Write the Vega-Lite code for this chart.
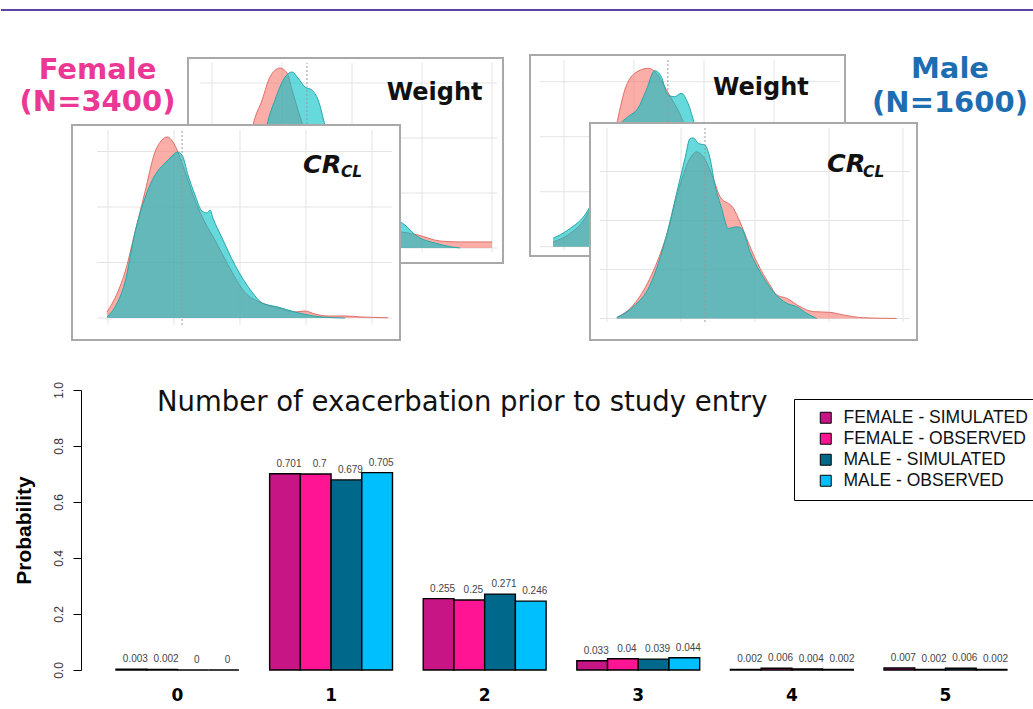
{
  "$schema": "https://vega.github.io/schema/vega-lite/v6.json",
  "background": "white",
  "padding": {"left": 0, "top": 0, "right": 0, "bottom": 0},
  "config": {"view": {"stroke": null}, "font": "Liberation Sans"},
  "spacing": 39,
  "resolve": {"legend": {"color": "independent"}},
  "vconcat": [
    {
      "width": 952, "height": 341,
      "resolve": {"scale": {"x": "independent", "y": "independent"}},
      "layer": [
        {
          "layer": [
            {"data": {"values": [{"k": 1}]}, "mark": {"type": "rect", "fill": "white", "stroke": "#a9a9a9", "strokeWidth": 2},
             "encoding": {"x": {"datum": 41.43, "type": "quantitative", "scale": {"domain": [3.214, 343.21], "nice": false, "zero": false}, "axis": null}, "x2": {"datum": 153.93},
                          "y": {"datum": -0.002727, "type": "quantitative", "scale": {"domain": [-0.016909, 0.045091], "nice": false, "zero": false}, "axis": null}, "y2": {"datum": 0.034545}}},
            {"data": {"values": [{"x": 50}, {"x": 75}, {"x": 100}, {"x": 125}, {"x": 150}]}, "mark": {"type": "rule", "color": "#e4e4e4"},
             "encoding": {"x": {"field": "x", "type": "quantitative", "scale": {"domain": [3.214, 343.21], "nice": false, "zero": false}, "axis": null},
                          "y": {"datum": -0.00073, "type": "quantitative", "scale": {"domain": [-0.016909, 0.045091], "nice": false, "zero": false}, "axis": null}, "y2": {"datum": 0.03364}}},
            {"data": {"values": [{"y": 0}, {"y": 0.01}, {"y": 0.02}, {"y": 0.03}]}, "mark": {"type": "rule", "color": "#e4e4e4"},
             "encoding": {"y": {"field": "y", "type": "quantitative", "scale": {"domain": [-0.016909, 0.045091], "nice": false, "zero": false}, "axis": null},
                          "x": {"datum": 45.7, "type": "quantitative", "scale": {"domain": [3.214, 343.21], "nice": false, "zero": false}, "axis": null}, "x2": {"datum": 151.8}}},
            {"data": {"name": "fw"}, "transform": [{"filter": "datum.s == 'o'"}],
             "mark": {"type": "area", "interpolate": "monotone", "color": "#F8766D", "fillOpacity": 0.6, "line": {"color": "#E0706A", "strokeWidth": 1}},
             "encoding": {"x": {"field": "x", "type": "quantitative", "scale": {"domain": [3.214, 343.21], "nice": false, "zero": false}, "axis": null},
                          "y": {"field": "y", "type": "quantitative", "stack": null, "scale": {"domain": [-0.016909, 0.045091], "nice": false, "zero": false}, "axis": null}, "y2": {"datum": 0}}},
            {"data": {"name": "fw"}, "transform": [{"filter": "datum.s == 's'"}],
             "mark": {"type": "area", "interpolate": "monotone", "color": "#00BFC4", "fillOpacity": 0.6, "line": {"color": "#27A7A9", "strokeWidth": 1}},
             "encoding": {"x": {"field": "x", "type": "quantitative", "scale": {"domain": [3.214, 343.21], "nice": false, "zero": false}, "axis": null},
                          "y": {"field": "y", "type": "quantitative", "stack": null, "scale": {"domain": [-0.016909, 0.045091], "nice": false, "zero": false}, "axis": null}, "y2": {"datum": 0}}},
            {"data": {"values": [{"x": 83.9}]}, "mark": {"type": "rule", "color": "#9a9a9a", "strokeDash": [2, 2]},
             "encoding": {"x": {"field": "x", "type": "quantitative", "scale": {"domain": [3.214, 343.21], "nice": false, "zero": false}, "axis": null},
                          "y": {"datum": -0.00073, "type": "quantitative", "scale": {"domain": [-0.016909, 0.045091], "nice": false, "zero": false}, "axis": null}, "y2": {"datum": 0.03364}}},
            {"data": {"values": [{"x": 112.4, "y": 0.0269, "t": "Weight"}]},
             "mark": {"type": "text", "align": "left", "baseline": "alphabetic", "font": "DejaVu Sans", "fontSize": 24, "fontWeight": "bold", "color": "#111"},
             "encoding": {"x": {"field": "x", "type": "quantitative", "scale": {"domain": [3.214, 343.21], "nice": false, "zero": false}, "axis": null},
                          "y": {"field": "y", "type": "quantitative", "scale": {"domain": [-0.016909, 0.045091], "nice": false, "zero": false}, "axis": null},
                          "text": {"field": "t"}}}
          ]
        },
        {
          "layer": [
            {"data": {"values": [{"k": 1}]}, "mark": {"type": "rect", "fill": "white", "stroke": "#a9a9a9", "strokeWidth": 2},
             "encoding": {"x": {"datum": 37.86, "type": "quantitative", "scale": {"domain": [-122.5, 217.5], "nice": false, "zero": false}, "axis": null}, "x2": {"datum": 150.36},
                          "y": {"datum": -0.001691, "type": "quantitative", "scale": {"domain": [-0.017145, 0.044855], "nice": false, "zero": false}, "axis": null}, "y2": {"datum": 0.034855}}},
            {"data": {"values": [{"x": 50}, {"x": 75}, {"x": 100}, {"x": 125}]}, "mark": {"type": "rule", "color": "#e4e4e4"},
             "encoding": {"x": {"field": "x", "type": "quantitative", "scale": {"domain": [-122.5, 217.5], "nice": false, "zero": false}, "axis": null},
                          "y": {"datum": -0.0006, "type": "quantitative", "scale": {"domain": [-0.017145, 0.044855], "nice": false, "zero": false}, "axis": null}, "y2": {"datum": 0.03395}}},
            {"data": {"values": [{"y": 0}, {"y": 0.01}, {"y": 0.02}, {"y": 0.03}]}, "mark": {"type": "rule", "color": "#e4e4e4"},
             "encoding": {"y": {"field": "y", "type": "quantitative", "scale": {"domain": [-0.017145, 0.044855], "nice": false, "zero": false}, "axis": null},
                          "x": {"datum": 41.4, "type": "quantitative", "scale": {"domain": [-122.5, 217.5], "nice": false, "zero": false}, "axis": null}, "x2": {"datum": 148.6}}},
            {"data": {"name": "mw"}, "transform": [{"filter": "datum.s == 'o'"}],
             "mark": {"type": "area", "interpolate": "monotone", "color": "#F8766D", "fillOpacity": 0.6, "line": {"color": "#E0706A", "strokeWidth": 1}},
             "encoding": {"x": {"field": "x", "type": "quantitative", "scale": {"domain": [-122.5, 217.5], "nice": false, "zero": false}, "axis": null},
                          "y": {"field": "y", "type": "quantitative", "stack": null, "scale": {"domain": [-0.017145, 0.044855], "nice": false, "zero": false}, "axis": null}, "y2": {"datum": 0}}},
            {"data": {"name": "mw"}, "transform": [{"filter": "datum.s == 's'"}],
             "mark": {"type": "area", "interpolate": "monotone", "color": "#00BFC4", "fillOpacity": 0.6, "line": {"color": "#27A7A9", "strokeWidth": 1}},
             "encoding": {"x": {"field": "x", "type": "quantitative", "scale": {"domain": [-122.5, 217.5], "nice": false, "zero": false}, "axis": null},
                          "y": {"field": "y", "type": "quantitative", "stack": null, "scale": {"domain": [-0.017145, 0.044855], "nice": false, "zero": false}, "axis": null}, "y2": {"datum": 0}}},
            {"data": {"values": [{"x": 87.1}]}, "mark": {"type": "rule", "color": "#9a9a9a", "strokeDash": [2, 2]},
             "encoding": {"x": {"field": "x", "type": "quantitative", "scale": {"domain": [-122.5, 217.5], "nice": false, "zero": false}, "axis": null},
                          "y": {"datum": -0.0006, "type": "quantitative", "scale": {"domain": [-0.017145, 0.044855], "nice": false, "zero": false}, "axis": null}, "y2": {"datum": 0.03395}}},
            {"data": {"values": [{"x": 103.2, "y": 0.02758, "t": "Weight"}]},
             "mark": {"type": "text", "align": "left", "baseline": "alphabetic", "font": "DejaVu Sans", "fontSize": 24, "fontWeight": "bold", "color": "#111"},
             "encoding": {"x": {"field": "x", "type": "quantitative", "scale": {"domain": [-122.5, 217.5], "nice": false, "zero": false}, "axis": null},
                          "y": {"field": "y", "type": "quantitative", "scale": {"domain": [-0.017145, 0.044855], "nice": false, "zero": false}, "axis": null},
                          "text": {"field": "t"}}}
          ]
        },
        {
          "layer": [
            {"data": {"values": [{"k": 1}]}, "mark": {"type": "rect", "fill": "white", "stroke": "#a9a9a9", "strokeWidth": 2},
             "encoding": {"x": {"datum": 22.73, "type": "quantitative", "scale": {"domain": [29.545, 750.76], "nice": false, "zero": false}, "axis": null}, "x2": {"datum": 271.21},
                          "y": {"datum": -0.001982, "type": "quantitative", "scale": {"domain": [-0.002072, 0.028649], "nice": false, "zero": false}, "axis": null}, "y2": {"datum": 0.017387}}},
            {"data": {"values": [{"x": 50}, {"x": 100}, {"x": 150}, {"x": 200}, {"x": 250}]}, "mark": {"type": "rule", "color": "#e4e4e4"},
             "encoding": {"x": {"field": "x", "type": "quantitative", "scale": {"domain": [29.545, 750.76], "nice": false, "zero": false}, "axis": null},
                          "y": {"datum": -0.00063, "type": "quantitative", "scale": {"domain": [-0.002072, 0.028649], "nice": false, "zero": false}, "axis": null}, "y2": {"datum": 0.01694}}},
            {"data": {"values": [{"y": 0}, {"y": 0.005}, {"y": 0.01}, {"y": 0.015}]}, "mark": {"type": "rule", "color": "#e4e4e4"},
             "encoding": {"y": {"field": "y", "type": "quantitative", "scale": {"domain": [-0.002072, 0.028649], "nice": false, "zero": false}, "axis": null},
                          "x": {"datum": 41.7, "type": "quantitative", "scale": {"domain": [29.545, 750.76], "nice": false, "zero": false}, "axis": null}, "x2": {"datum": 265.2}}},
            {"data": {"name": "fc"}, "transform": [{"filter": "datum.s == 'o'"}],
             "mark": {"type": "area", "interpolate": "monotone", "color": "#F8766D", "fillOpacity": 0.6, "line": {"color": "#E0706A", "strokeWidth": 1}},
             "encoding": {"x": {"field": "x", "type": "quantitative", "scale": {"domain": [29.545, 750.76], "nice": false, "zero": false}, "axis": null},
                          "y": {"field": "y", "type": "quantitative", "stack": null, "scale": {"domain": [-0.002072, 0.028649], "nice": false, "zero": false}, "axis": null}, "y2": {"datum": 0}}},
            {"data": {"name": "fc"}, "transform": [{"filter": "datum.s == 's'"}],
             "mark": {"type": "area", "interpolate": "monotone", "color": "#00BFC4", "fillOpacity": 0.6, "line": {"color": "#27A7A9", "strokeWidth": 1}},
             "encoding": {"x": {"field": "x", "type": "quantitative", "scale": {"domain": [29.545, 750.76], "nice": false, "zero": false}, "axis": null},
                          "y": {"field": "y", "type": "quantitative", "stack": null, "scale": {"domain": [-0.002072, 0.028649], "nice": false, "zero": false}, "axis": null}, "y2": {"datum": 0}}},
            {"data": {"values": [{"x": 106.1}]}, "mark": {"type": "rule", "color": "#9a9a9a", "strokeDash": [2, 2]},
             "encoding": {"x": {"field": "x", "type": "quantitative", "scale": {"domain": [29.545, 750.76], "nice": false, "zero": false}, "axis": null},
                          "y": {"datum": -0.00063, "type": "quantitative", "scale": {"domain": [-0.002072, 0.028649], "nice": false, "zero": false}, "axis": null}, "y2": {"datum": 0.01694}}},
            {"data": {"values": [{"x": 197.7, "y": 0.01306, "t": "CR"}]},
             "mark": {"type": "text", "align": "left", "baseline": "alphabetic", "font": "DejaVu Sans", "fontSize": 25.5, "fontWeight": "bold", "fontStyle": "italic", "color": "#111"},
             "encoding": {"x": {"field": "x", "type": "quantitative", "scale": {"domain": [29.545, 750.76], "nice": false, "zero": false}, "axis": null},
                          "y": {"field": "y", "type": "quantitative", "scale": {"domain": [-0.002072, 0.028649], "nice": false, "zero": false}, "axis": null},
                          "text": {"field": "t"}}},
            {"data": {"values": [{"x": 226.5, "y": 0.0127, "t": "CL"}]},
             "mark": {"type": "text", "align": "left", "baseline": "alphabetic", "font": "DejaVu Sans", "fontSize": 15.5, "fontWeight": "bold", "fontStyle": "italic", "color": "#111"},
             "encoding": {"x": {"field": "x", "type": "quantitative", "scale": {"domain": [29.545, 750.76], "nice": false, "zero": false}, "axis": null},
                          "y": {"field": "y", "type": "quantitative", "scale": {"domain": [-0.002072, 0.028649], "nice": false, "zero": false}, "axis": null},
                          "text": {"field": "t"}}},
            {"data": {"values": [{"x": 42.05, "y": 0.022342, "t": "Female\n(N=3400)"}]},
             "mark": {"type": "text", "align": "center", "baseline": "middle", "lineBreak": "\n", "lineHeight": 32, "font": "DejaVu Sans", "fontSize": 29, "fontWeight": "bold", "color": "#EC3794"},
             "encoding": {"x": {"field": "x", "type": "quantitative", "scale": {"domain": [29.545, 750.76], "nice": false, "zero": false}, "axis": null},
                          "y": {"field": "y", "type": "quantitative", "scale": {"domain": [-0.002072, 0.028649], "nice": false, "zero": false}, "axis": null},
                          "text": {"field": "t"}}},
            {"data": {"values": [{"k": 1}]}, "mark": {"type": "rule", "color": "#5B43A8", "strokeWidth": 2},
             "encoding": {"x": {"datum": -31.06, "type": "quantitative", "scale": {"domain": [29.545, 750.76], "nice": false, "zero": false}, "axis": null}, "x2": {"datum": 750.76},
                          "y": {"datum": 0.027748, "type": "quantitative", "scale": {"domain": [-0.002072, 0.028649], "nice": false, "zero": false}, "axis": null}}}
          ]
        },
        {
          "layer": [
            {"data": {"values": [{"k": 1}]}, "mark": {"type": "rect", "fill": "white", "stroke": "#a9a9a9", "strokeWidth": 2},
             "encoding": {"x": {"datum": 38.51, "type": "quantitative", "scale": {"domain": [-305.41, 337.84], "nice": false, "zero": false}, "axis": null}, "x2": {"datum": 259.46},
                          "y": {"datum": -0.002194, "type": "quantitative", "scale": {"domain": [-0.002296, 0.0325], "nice": false, "zero": false}, "axis": null}, "y2": {"datum": 0.019949}}},
            {"data": {"values": [{"x": 50}, {"x": 100}, {"x": 150}, {"x": 200}, {"x": 250}]}, "mark": {"type": "rule", "color": "#e4e4e4"},
             "encoding": {"x": {"field": "x", "type": "quantitative", "scale": {"domain": [-305.41, 337.84], "nice": false, "zero": false}, "axis": null},
                          "y": {"datum": -0.00036, "type": "quantitative", "scale": {"domain": [-0.002296, 0.0325], "nice": false, "zero": false}, "axis": null}, "y2": {"datum": 0.01944}}},
            {"data": {"values": [{"y": 0}, {"y": 0.005}, {"y": 0.01}, {"y": 0.015}]}, "mark": {"type": "rule", "color": "#e4e4e4"},
             "encoding": {"y": {"field": "y", "type": "quantitative", "scale": {"domain": [-0.002296, 0.0325], "nice": false, "zero": false}, "axis": null},
                          "x": {"datum": 45.3, "type": "quantitative", "scale": {"domain": [-305.41, 337.84], "nice": false, "zero": false}, "axis": null}, "x2": {"datum": 254.7}}},
            {"data": {"name": "mc"}, "transform": [{"filter": "datum.s == 'o'"}],
             "mark": {"type": "area", "interpolate": "monotone", "color": "#F8766D", "fillOpacity": 0.6, "line": {"color": "#E0706A", "strokeWidth": 1}},
             "encoding": {"x": {"field": "x", "type": "quantitative", "scale": {"domain": [-305.41, 337.84], "nice": false, "zero": false}, "axis": null},
                          "y": {"field": "y", "type": "quantitative", "stack": null, "scale": {"domain": [-0.002296, 0.0325], "nice": false, "zero": false}, "axis": null}, "y2": {"datum": 0}}},
            {"data": {"name": "mc"}, "transform": [{"filter": "datum.s == 's'"}],
             "mark": {"type": "area", "interpolate": "monotone", "color": "#00BFC4", "fillOpacity": 0.6, "line": {"color": "#27A7A9", "strokeWidth": 1}},
             "encoding": {"x": {"field": "x", "type": "quantitative", "scale": {"domain": [-305.41, 337.84], "nice": false, "zero": false}, "axis": null},
                          "y": {"field": "y", "type": "quantitative", "stack": null, "scale": {"domain": [-0.002296, 0.0325], "nice": false, "zero": false}, "axis": null}, "y2": {"datum": 0}}},
            {"data": {"values": [{"x": 116.2}]}, "mark": {"type": "rule", "color": "#9a9a9a", "strokeDash": [2, 2]},
             "encoding": {"x": {"field": "x", "type": "quantitative", "scale": {"domain": [-305.41, 337.84], "nice": false, "zero": false}, "axis": null},
                          "y": {"datum": -0.00036, "type": "quantitative", "scale": {"domain": [-0.002296, 0.0325], "nice": false, "zero": false}, "axis": null}, "y2": {"datum": 0.01944}}},
            {"data": {"values": [{"x": 198.6, "y": 0.01498, "t": "CR"}]},
             "mark": {"type": "text", "align": "left", "baseline": "alphabetic", "font": "DejaVu Sans", "fontSize": 25.5, "fontWeight": "bold", "fontStyle": "italic", "color": "#111"},
             "encoding": {"x": {"field": "x", "type": "quantitative", "scale": {"domain": [-305.41, 337.84], "nice": false, "zero": false}, "axis": null},
                          "y": {"field": "y", "type": "quantitative", "scale": {"domain": [-0.002296, 0.0325], "nice": false, "zero": false}, "axis": null},
                          "text": {"field": "t"}}},
            {"data": {"values": [{"x": 223.0, "y": 0.01447, "t": "CL"}]},
             "mark": {"type": "text", "align": "left", "baseline": "alphabetic", "font": "DejaVu Sans", "fontSize": 15.5, "fontWeight": "bold", "fontStyle": "italic", "color": "#111"},
             "encoding": {"x": {"field": "x", "type": "quantitative", "scale": {"domain": [-305.41, 337.84], "nice": false, "zero": false}, "axis": null},
                          "y": {"field": "y", "type": "quantitative", "scale": {"domain": [-0.002296, 0.0325], "nice": false, "zero": false}, "axis": null},
                          "text": {"field": "t"}}},
            {"data": {"values": [{"x": 281.76, "y": 0.02546, "t": "Male\n(N=1600)"}]},
             "mark": {"type": "text", "align": "center", "baseline": "middle", "lineBreak": "\n", "lineHeight": 34, "font": "DejaVu Sans", "fontSize": 29, "fontWeight": "bold", "color": "#1C6DB2"},
             "encoding": {"x": {"field": "x", "type": "quantitative", "scale": {"domain": [-305.41, 337.84], "nice": false, "zero": false}, "axis": null},
                          "y": {"field": "y", "type": "quantitative", "scale": {"domain": [-0.002296, 0.0325], "nice": false, "zero": false}, "axis": null},
                          "text": {"field": "t"}}}
          ]
        }
      ]
    },
    {
      "width": 952, "height": 280,
      "data": {"name": "bars"},
      "title": {"text": "Number of exacerbation prior to study entry", "anchor": "start", "frame": "group", "dx": 76, "offset": -57, "baseline": "alphabetic", "font": "DejaVu Sans", "fontSize": 27.5, "fontWeight": "normal", "color": "#111"},
      "encoding": {
        "x": {"field": "n", "type": "ordinal", "scale": {"paddingInner": 0.2, "paddingOuter": 0.199, "align": 0.573},
              "axis": {"title": null, "labelAngle": 0, "domain": false, "ticks": false, "labelPadding": 17, "labelFont": "DejaVu Sans", "labelFontWeight": "bold", "labelFontSize": 17, "labelColor": "black"}},
        "xOffset": {"field": "g", "type": "nominal", "sort": ["FEMALE - SIMULATED", "FEMALE - OBSERVED", "MALE - SIMULATED", "MALE - OBSERVED"], "scale": {"paddingInner": 0, "paddingOuter": 0}},
        "y": {"field": "p", "type": "quantitative", "scale": {"domain": [0, 1], "nice": false},
              "axis": {"values": [0, 0.2, 0.4, 0.6, 0.8, 1], "format": ".1f", "grid": false, "labelAngle": 270, "labelAlign": "center", "labelBaseline": "bottom", "labelFont": "Liberation Sans", "labelFontSize": 12, "labelColor": "#333", "labelPadding": 8, "labelOverlap": false, "tickSize": 8, "tickColor": "black", "domainColor": "black", "title": "Probability", "titleFont": "Liberation Sans", "titleFontSize": 21, "titleFontWeight": "bold", "titleColor": "black", "titlePadding": 18}}
      },
      "layer": [
        {"mark": {"type": "bar", "stroke": "black", "strokeWidth": 1.4},
         "encoding": {"color": {"field": "g", "type": "nominal",
           "scale": {"domain": ["FEMALE - SIMULATED", "FEMALE - OBSERVED", "MALE - SIMULATED", "MALE - OBSERVED"], "range": ["#C71585", "#FF1493", "#00688B", "#00BFFF"]},
           "legend": {"title": null, "orient": "none", "legendX": 713, "legendY": 9, "strokeColor": "black", "fillColor": "white", "padding": 10, "symbolType": "square", "symbolSize": 120, "symbolStrokeColor": "black", "symbolStrokeWidth": 1, "symbolOffset": 13, "labelFont": "Liberation Sans", "labelFontSize": 17.5, "labelColor": "#111", "labelOffset": 9, "rowPadding": 2, "labelLimit": 400}}}},
        {"mark": {"type": "text", "baseline": "bottom", "dy": -5, "dx": 4, "fontSize": 10, "font": "Liberation Sans", "color": "#444"},
         "encoding": {"text": {"field": "p", "type": "quantitative", "format": "~g"}}}
      ]
    }
  ],
  "datasets": {
    "bars": [
      {"n": 0, "g": "FEMALE - SIMULATED", "p": 0.003}, {"n": 0, "g": "FEMALE - OBSERVED", "p": 0.002}, {"n": 0, "g": "MALE - SIMULATED", "p": 0}, {"n": 0, "g": "MALE - OBSERVED", "p": 0},
      {"n": 1, "g": "FEMALE - SIMULATED", "p": 0.701}, {"n": 1, "g": "FEMALE - OBSERVED", "p": 0.7}, {"n": 1, "g": "MALE - SIMULATED", "p": 0.679}, {"n": 1, "g": "MALE - OBSERVED", "p": 0.705},
      {"n": 2, "g": "FEMALE - SIMULATED", "p": 0.255}, {"n": 2, "g": "FEMALE - OBSERVED", "p": 0.25}, {"n": 2, "g": "MALE - SIMULATED", "p": 0.271}, {"n": 2, "g": "MALE - OBSERVED", "p": 0.246},
      {"n": 3, "g": "FEMALE - SIMULATED", "p": 0.033}, {"n": 3, "g": "FEMALE - OBSERVED", "p": 0.04}, {"n": 3, "g": "MALE - SIMULATED", "p": 0.039}, {"n": 3, "g": "MALE - OBSERVED", "p": 0.044},
      {"n": 4, "g": "FEMALE - SIMULATED", "p": 0.002}, {"n": 4, "g": "FEMALE - OBSERVED", "p": 0.006}, {"n": 4, "g": "MALE - SIMULATED", "p": 0.004}, {"n": 4, "g": "MALE - OBSERVED", "p": 0.002},
      {"n": 5, "g": "FEMALE - SIMULATED", "p": 0.007}, {"n": 5, "g": "FEMALE - OBSERVED", "p": 0.002}, {"n": 5, "g": "MALE - SIMULATED", "p": 0.006}, {"n": 5, "g": "MALE - OBSERVED", "p": 0.002}
    ],
    "fc": [
      {"x": 49.2, "y": 0.00054, "s": "o"}, {"x": 55.3, "y": 0.0018, "s": "o"}, {"x": 62.9, "y": 0.00414, "s": "o"}, {"x": 70.5, "y": 0.00775, "s": "o"}, {"x": 78.0, "y": 0.01135, "s": "o"}, {"x": 85.6, "y": 0.01495, "s": "o"}, {"x": 90.9, "y": 0.01604, "s": "o"}, {"x": 94.7, "y": 0.01631, "s": "o"}, {"x": 99.2, "y": 0.01586, "s": "o"}, {"x": 103.0, "y": 0.01495, "s": "o"}, {"x": 108.3, "y": 0.0132, "s": "o"}, {"x": 115.9, "y": 0.0106, "s": "o"}, {"x": 123.5, "y": 0.0086, "s": "o"}, {"x": 131.1, "y": 0.007, "s": "o"}, {"x": 140.9, "y": 0.0048, "s": "o"}, {"x": 153.8, "y": 0.0023, "s": "o"}, {"x": 166.7, "y": 0.00135, "s": "o"}, {"x": 178.8, "y": 0.0009, "s": "o"}, {"x": 191.7, "y": 0.00054, "s": "o"}, {"x": 199.2, "y": 0.00063, "s": "o"}, {"x": 206.8, "y": 0.00036, "s": "o"}, {"x": 216.7, "y": 0.00018, "s": "o"}, {"x": 229.5, "y": 0.00018, "s": "o"}, {"x": 240.9, "y": 0.0001, "s": "o"}, {"x": 262.1, "y": 0.00002, "s": "o"},
      {"x": 49.2, "y": 0.0001, "s": "s"}, {"x": 55.3, "y": 0.00099, "s": "s"}, {"x": 62.9, "y": 0.00324, "s": "s"}, {"x": 70.5, "y": 0.00775, "s": "s"}, {"x": 78.0, "y": 0.01081, "s": "s"}, {"x": 85.6, "y": 0.01288, "s": "s"}, {"x": 93.2, "y": 0.01396, "s": "s"}, {"x": 98.5, "y": 0.01459, "s": "s"}, {"x": 102.3, "y": 0.01495, "s": "s"}, {"x": 106.1, "y": 0.01468, "s": "s"}, {"x": 110.6, "y": 0.01288, "s": "s"}, {"x": 115.9, "y": 0.01108, "s": "s"}, {"x": 121.2, "y": 0.00964, "s": "s"}, {"x": 125.0, "y": 0.00946, "s": "s"}, {"x": 127.3, "y": 0.00973, "s": "s"}, {"x": 129.5, "y": 0.00901, "s": "s"}, {"x": 136.4, "y": 0.00721, "s": "s"}, {"x": 146.2, "y": 0.00477, "s": "s"}, {"x": 159.1, "y": 0.00234, "s": "s"}, {"x": 166.7, "y": 0.00135, "s": "s"}, {"x": 178.8, "y": 0.00099, "s": "s"}, {"x": 191.7, "y": 0.00054, "s": "s"}, {"x": 212.1, "y": 0.00009, "s": "s"}, {"x": 229.5, "y": 0, "s": "s"}
    ],
    "fw": [
      {"x": 52.9, "y": 0.0002, "s": "o"}, {"x": 57.1, "y": 0.0018, "s": "o"}, {"x": 60.7, "y": 0.00873, "s": "o"}, {"x": 64.6, "y": 0.02218, "s": "o"}, {"x": 67.9, "y": 0.02691, "s": "o"}, {"x": 70.7, "y": 0.03109, "s": "o"}, {"x": 74.3, "y": 0.03273, "s": "o"}, {"x": 76.8, "y": 0.03182, "s": "o"}, {"x": 78.6, "y": 0.02873, "s": "o"}, {"x": 80.7, "y": 0.02509, "s": "o"}, {"x": 82.5, "y": 0.02218, "s": "o"}, {"x": 85.7, "y": 0.016, "s": "o"}, {"x": 90.4, "y": 0.01055, "s": "o"}, {"x": 95.7, "y": 0.0069, "s": "o"}, {"x": 102.9, "y": 0.00473, "s": "o"}, {"x": 110.0, "y": 0.00364, "s": "o"}, {"x": 117.9, "y": 0.0029, "s": "o"}, {"x": 123.6, "y": 0.00236, "s": "o"}, {"x": 131.4, "y": 0.00127, "s": "o"}, {"x": 138.6, "y": 0.0011, "s": "o"}, {"x": 150.0, "y": 0.0011, "s": "o"},
      {"x": 54.6, "y": 0.0002, "s": "s"}, {"x": 60.0, "y": 0.0011, "s": "s"}, {"x": 65.4, "y": 0.006, "s": "s"}, {"x": 69.6, "y": 0.02218, "s": "s"}, {"x": 72.5, "y": 0.02691, "s": "s"}, {"x": 76.1, "y": 0.03109, "s": "s"}, {"x": 78.6, "y": 0.032, "s": "s"}, {"x": 80.7, "y": 0.03091, "s": "s"}, {"x": 83.2, "y": 0.02927, "s": "s"}, {"x": 85.7, "y": 0.02873, "s": "s"}, {"x": 87.9, "y": 0.02691, "s": "s"}, {"x": 90.4, "y": 0.02218, "s": "s"}, {"x": 93.9, "y": 0.01509, "s": "s"}, {"x": 99.3, "y": 0.00964, "s": "s"}, {"x": 106.4, "y": 0.0069, "s": "s"}, {"x": 113.6, "y": 0.00545, "s": "s"}, {"x": 117.9, "y": 0.00455, "s": "s"}, {"x": 123.6, "y": 0.002, "s": "s"}, {"x": 129.6, "y": 0.00091, "s": "s"}, {"x": 135.7, "y": 0.00018, "s": "s"}, {"x": 138.6, "y": 0, "s": "s"}
    ],
    "mw": [
      {"x": 46.1, "y": 0.00091, "s": "o"}, {"x": 51.4, "y": 0.00213, "s": "o"}, {"x": 58.6, "y": 0.00613, "s": "o"}, {"x": 63.9, "y": 0.01304, "s": "o"}, {"x": 68.7, "y": 0.02213, "s": "o"}, {"x": 71.7, "y": 0.02849, "s": "o"}, {"x": 75.25, "y": 0.03153, "s": "o"}, {"x": 80.1, "y": 0.03244, "s": "o"}, {"x": 83.0, "y": 0.03153, "s": "o"}, {"x": 85.96, "y": 0.02909, "s": "o"}, {"x": 88.3, "y": 0.02698, "s": "o"}, {"x": 90.7, "y": 0.02485, "s": "o"}, {"x": 93.1, "y": 0.02213, "s": "o"}, {"x": 98.6, "y": 0.01485, "s": "o"}, {"x": 103.9, "y": 0.00849, "s": "o"}, {"x": 111.1, "y": 0.00395, "s": "o"}, {"x": 120.0, "y": 0.00158, "s": "o"}, {"x": 130.7, "y": 0.00067, "s": "o"}, {"x": 145.0, "y": 0, "s": "o"},
      {"x": 46.1, "y": 0.00153, "s": "s"}, {"x": 51.4, "y": 0.00304, "s": "s"}, {"x": 58.6, "y": 0.00667, "s": "s"}, {"x": 64.6, "y": 0.01395, "s": "s"}, {"x": 69.9, "y": 0.02213, "s": "s"}, {"x": 72.9, "y": 0.02364, "s": "s"}, {"x": 76.4, "y": 0.02516, "s": "s"}, {"x": 79.4, "y": 0.02849, "s": "s"}, {"x": 82.4, "y": 0.032, "s": "s"}, {"x": 84.75, "y": 0.03091, "s": "s"}, {"x": 87.1, "y": 0.02758, "s": "s"}, {"x": 89.5, "y": 0.02727, "s": "s"}, {"x": 91.9, "y": 0.02789, "s": "s"}, {"x": 94.3, "y": 0.02607, "s": "s"}, {"x": 96.7, "y": 0.02213, "s": "s"}, {"x": 100.4, "y": 0.01485, "s": "s"}, {"x": 105.7, "y": 0.00758, "s": "s"}, {"x": 112.9, "y": 0.00304, "s": "s"}, {"x": 120.0, "y": 0.00122, "s": "s"}, {"x": 130.7, "y": 0.00031, "s": "s"}, {"x": 141.4, "y": 0, "s": "s"}
    ],
    "mc": [
      {"x": 56.6, "y": 0.0001, "s": "o"}, {"x": 67.8, "y": 0.00138, "s": "o"}, {"x": 79.1, "y": 0.00413, "s": "o"}, {"x": 90.3, "y": 0.00852, "s": "o"}, {"x": 99.3, "y": 0.01362, "s": "o"}, {"x": 106.1, "y": 0.01633, "s": "o"}, {"x": 110.6, "y": 0.01701, "s": "o"}, {"x": 115.1, "y": 0.0165, "s": "o"}, {"x": 121.8, "y": 0.01429, "s": "o"}, {"x": 126.4, "y": 0.01243, "s": "o"}, {"x": 135.4, "y": 0.01125, "s": "o"}, {"x": 139.9, "y": 0.00985, "s": "o"}, {"x": 144.4, "y": 0.00815, "s": "o"}, {"x": 151.2, "y": 0.00577, "s": "o"}, {"x": 160.1, "y": 0.00342, "s": "o"}, {"x": 164.7, "y": 0.0024, "s": "o"}, {"x": 171.4, "y": 0.00206, "s": "o"}, {"x": 180.4, "y": 0.00121, "s": "o"}, {"x": 189.4, "y": 0.0007, "s": "o"}, {"x": 200.7, "y": 0.00063, "s": "o"}, {"x": 209.7, "y": 0.00036, "s": "o"}, {"x": 223.2, "y": 0.00008, "s": "o"}, {"x": 245.7, "y": 0, "s": "o"},
      {"x": 56.6, "y": 0.0001, "s": "s"}, {"x": 67.8, "y": 0.00121, "s": "s"}, {"x": 79.1, "y": 0.00342, "s": "s"}, {"x": 90.3, "y": 0.00852, "s": "s"}, {"x": 97.1, "y": 0.01283, "s": "s"}, {"x": 102.7, "y": 0.01633, "s": "s"}, {"x": 106.1, "y": 0.01837, "s": "s"}, {"x": 108.3, "y": 0.01843, "s": "s"}, {"x": 111.7, "y": 0.01786, "s": "s"}, {"x": 116.2, "y": 0.0177, "s": "s"}, {"x": 119.6, "y": 0.01633, "s": "s"}, {"x": 123.0, "y": 0.01357, "s": "s"}, {"x": 127.5, "y": 0.01123, "s": "s"}, {"x": 131.9, "y": 0.00919, "s": "s"}, {"x": 137.6, "y": 0.00935, "s": "s"}, {"x": 141.0, "y": 0.00919, "s": "s"}, {"x": 146.6, "y": 0.00681, "s": "s"}, {"x": 153.4, "y": 0.00477, "s": "s"}, {"x": 162.4, "y": 0.00273, "s": "s"}, {"x": 171.4, "y": 0.00155, "s": "s"}, {"x": 178.2, "y": 0.00121, "s": "s"}, {"x": 184.9, "y": 0.00053, "s": "s"}, {"x": 191.7, "y": 0, "s": "s"}
    ]
  }
}
